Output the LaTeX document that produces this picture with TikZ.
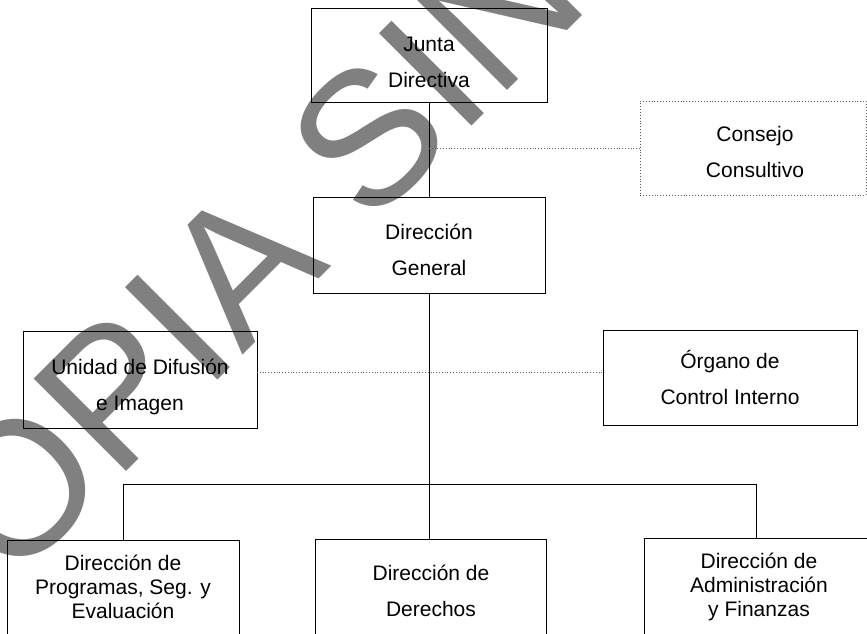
\documentclass[tikz,border=0pt]{standalone}
\usepackage{fontspec}
\setmainfont{Liberation Sans}
\definecolor{wmgray}{RGB}{128,128,128}
\definecolor{dotgray}{RGB}{90,90,90}
\begin{document}
\begin{tikzpicture}[x=1pt,y=-1pt,
  box/.style={draw=black,line width=0.9pt,inner sep=0pt},
  dotbox/.style={box,draw=dotgray,dotted,line width=0.8pt},
  txt/.style={inner sep=0pt,align=center,font=\fontsize{21}{36}\selectfont},
  txtthree/.style={txt,font=\fontsize{21}{24}\selectfont},
  conn/.style={draw=black,line width=0.9pt},
  dotconn/.style={draw=dotgray,dotted,line width=0.8pt},
  wmark/.style={font=\fontsize{190}{190}\selectfont,text=wmgray,
    rotate=45,anchor=base west,inner sep=0pt}]
\useasboundingbox (0,0) rectangle (867,633);
\clip (0,0) rectangle (867,633);
\fill[white] (0,0) rectangle (867,633);
% watermark
\node[wmark] (wm) at (11,587) {OPIA SIN};
% boxes
\node[box,minimum width=236pt,minimum height=94pt] (jd) at (429,55) {};
\node[dotbox,minimum width=226pt,minimum height=94pt] (cc) at (753,148) {};
\node[box,minimum width=232pt,minimum height=96pt] (dg) at (429,245) {};
\node[box,minimum width=234pt,minimum height=97pt] (ud) at (140,379.5) {};
\node[box,minimum width=254pt,minimum height=95pt] (oci) at (730,377.5) {};
\node[box,minimum width=232pt,minimum height=100pt] (dp) at (123,590) {};
\node[box,minimum width=231pt,minimum height=101pt] (dd) at (431,590) {};
\node[box,minimum width=224pt,minimum height=102pt] (da) at (756,589) {};
% texts
\node[txt] (jdt) at (429,62) {Junta\\Directiva};
\node[txt] (cct) at (755,151.5) {Consejo\\Consultivo};
\node[txt] (dgt) at (429,250) {Dirección\\General};
\node[txt] (udt) at (140,387) {Unidad de Difusión\\e Imagen};
\node[txt] (ocit) at (730,377.5) {Órgano de\\Control Interno};
\node[txtthree] (dpt) at (123,587) {Dirección de\\Programas, Seg. y\\Evaluación};
\node[txt] (ddt) at (431,591) {Dirección de\\Derechos};
\node[txtthree] (dat) at (759,587) {Dirección de\\Administración\\y Finanzas};
% coordinates
\coordinate (cj) at (429,148);
\coordinate (bus) at (429,484);
\coordinate (udj) at (257,372);
\coordinate (ocij) at (603,372);
% connectors
\draw[conn] (jd.south) -- (dg.north);
\draw[conn] (dg.south) -- (bus);
\draw[conn] (dp.north) |- (bus) -| (da.north);
\draw[conn] (bus) -- (bus |- dd.north);
\draw[dotconn] (cj) -- (cj -| cc.west);
\draw[dotconn] (udj) -- (ocij);
\end{tikzpicture}
\end{document}
